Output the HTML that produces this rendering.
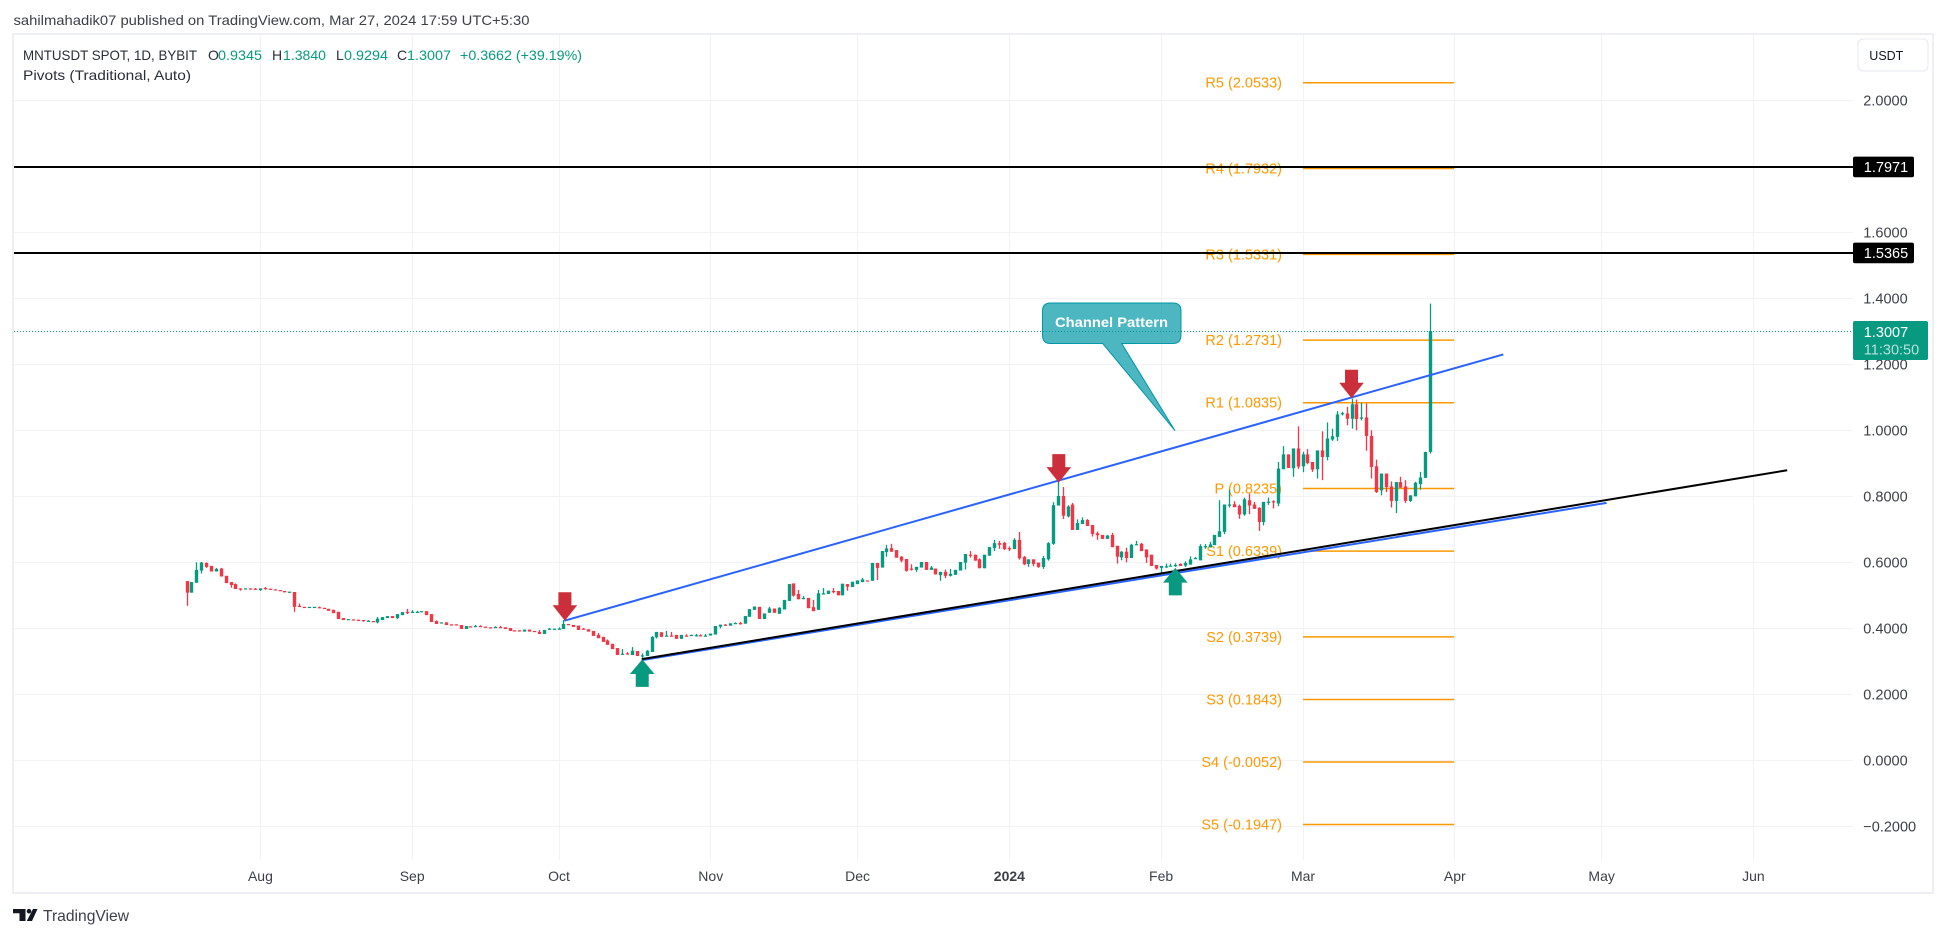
<!DOCTYPE html>
<html lang="en">
<head>
<meta charset="utf-8">
<title>MNTUSDT SPOT chart</title>
<style>
html,body{margin:0;padding:0;background:#fff;}
svg{display:block;font-family:"Liberation Sans",sans-serif;}
</style>
</head>
<body>
<svg id="chart" xmlns="http://www.w3.org/2000/svg" width="1946" height="937" viewBox="0 0 1946 937">
  <rect x="0" y="0" width="1946" height="937" fill="#ffffff"/>
  <text x="13.5" y="25" font-size="14" fill="#3c3f48" textLength="516" lengthAdjust="spacingAndGlyphs">sahilmahadik07 published on TradingView.com, Mar 27, 2024 17:59 UTC+5:30</text>
  <rect x="13" y="34" width="1920" height="859" fill="none" stroke="#eeeef5" stroke-width="2"/>
  <g id="grid"></g>
  <g id="pivots"></g>
  <g id="candles"></g>
  <g id="priceline"></g>
  <g id="trendlines"></g>
  <g id="levels"></g>
  <g id="arrows"></g>
  <g>
    <path d="M1050.5 303 H1173 Q1181 303 1181 311 V335 Q1181 343.5 1173 343.5 H1121.7 L1175 430.7 L1102.7 343.5 H1050.5 Q1042.5 343.5 1042.5 335 V311 Q1042.5 303 1050.5 303 Z" fill="#0097a7" fill-opacity="0.7" stroke="#0097a7" stroke-width="1"/>
    <text x="1055" y="327" font-size="14" font-weight="bold" fill="#ffffff" textLength="113" lengthAdjust="spacingAndGlyphs">Channel Pattern</text>
  </g>
  <g font-size="14">
    <text x="23" y="60" fill="#2a2e39" textLength="174" lengthAdjust="spacingAndGlyphs">MNTUSDT SPOT, 1D, BYBIT</text>
    <text x="208" y="60" fill="#2a2e39">O</text>
    <text x="218" y="60" fill="#089981" textLength="44" lengthAdjust="spacingAndGlyphs">0.9345</text>
    <text x="272" y="60" fill="#2a2e39">H</text>
    <text x="283" y="60" fill="#089981" textLength="43" lengthAdjust="spacingAndGlyphs">1.3840</text>
    <text x="336" y="60" fill="#2a2e39">L</text>
    <text x="344" y="60" fill="#089981" textLength="44" lengthAdjust="spacingAndGlyphs">0.9294</text>
    <text x="397" y="60" fill="#2a2e39">C</text>
    <text x="407" y="60" fill="#089981" textLength="44" lengthAdjust="spacingAndGlyphs">1.3007</text>
    <text x="460" y="60" fill="#089981" textLength="122" lengthAdjust="spacingAndGlyphs">+0.3662 (+39.19%)</text>
    <text x="23" y="80" fill="#2a2e39" textLength="168" lengthAdjust="spacingAndGlyphs">Pivots (Traditional, Auto)</text>
  </g>
  <g id="priceaxis"></g>
  <g id="timeaxis"></g>
  <g>
    <rect x="1858" y="39" width="70" height="32" rx="5" fill="#ffffff" stroke="#e6e8ef" stroke-width="1"/>
    <text x="1869.3" y="60" font-size="13" fill="#131722" textLength="34" lengthAdjust="spacingAndGlyphs">USDT</text>
  </g>
  <g>
    <path fill="#131722" d="M13 909 H25.5 V921 H19.5 V913.2 H13 Z M33 909 H37.5 L32 921 H26.8 Z"/>
    <circle cx="29" cy="911.2" r="2.3" fill="#131722"/>
    <text x="43" y="921" font-size="16" fill="#3c3f48" textLength="86" lengthAdjust="spacingAndGlyphs">TradingView</text>
  </g>
</svg>
<script>
const opens = [
.543,.508,.538,.575,.598,.589,.572,.581,.559,.540,
.534,.521,.520,.521,.520,.516,.522,.520,.518,.516,
.513,.510,.510,.468,.465,.464,.464,.464,.462,.459,
.456,.450,.431,.427,.427,.426,.425,.422,.422,.418,
.425,.431,.437,.431,.440,.450,.449,.449,.451,.452,
.443,.422,.417,.418,.412,.412,.410,.398,.406,.406,
.407,.405,.403,.403,.404,.403,.401,.394,.394,.390,
.396,.392,.389,.383,.398,.398,.398,.398,.413,.410,
.408,.399,.397,.392,.380,.374,.363,.353,.340,.322,
.324,.319,.331,.317,.316,.328,.373,.388,.377,.378,
.380,.368,.378,.379,.378,.379,.377,.378,.381,.405,
.411,.408,.415,.416,.414,.435,.456,.465,.428,.447,
.460,.444,.457,.483,.536,.504,.491,.492,.464,.456,
.505,.504,.513,.513,.500,.534,.525,.534,.540,.545,
.544,.598,.584,.631,.643,.637,.617,.610,.581,.577,
.584,.601,.577,.581,.561,.571,.559,.562,.575,.599,
.623,.623,.609,.582,.620,.643,.658,.659,.643,.640,
.668,.616,.595,.609,.599,.586,.609,.656,.772,.801,
.739,.775,.698,.716,.728,.713,.688,.683,.671,.683,
.650,.615,.632,.613,.654,.656,.639,.623,.592,.583,
.587,.590,.591,.595,.590,.593,.612,.606,.648,.645,
.652,.677,.692,.774,.776,.771,.745,.788,.775,.765,
.722,.783,.785,.778,.882,.927,.885,.945,.891,.927,
.904,.882,.939,.919,.972,.980,1.051,1.051,1.035,1.079,
1.038,1.039,.983,.891,.818,.869,.830,.786,.843,.830,
.786,.800,.837,.856,.9345];
const closes = [
.508,.540,.577,.599,.586,.572,.580,.557,.537,.531,
.519,.519,.521,.519,.519,.521,.520,.519,.517,.515,
.509,.511,.465,.465,.464,.465,.465,.462,.461,.453,
.446,.428,.425,.428,.426,.425,.424,.423,.421,.429,
.434,.437,.431,.443,.449,.446,.450,.450,.452,.440,
.419,.413,.418,.410,.411,.411,.398,.407,.405,.407,
.406,.404,.402,.404,.403,.398,.392,.393,.393,.396,
.390,.391,.383,.395,.399,.399,.399,.413,.412,.404,
.395,.398,.390,.377,.370,.359,.350,.337,.319,.323,
.323,.332,.316,.318,.332,.374,.389,.374,.378,.377,
.368,.380,.377,.380,.379,.378,.378,.384,.407,.411,
.410,.415,.416,.415,.437,.458,.466,.428,.445,.460,
.447,.462,.486,.534,.499,.488,.492,.461,.452,.506,
.506,.514,.512,.500,.535,.526,.541,.545,.548,.544,
.598,.583,.634,.642,.632,.614,.605,.574,.580,.586,
.601,.577,.584,.563,.571,.559,.565,.577,.601,.625,
.622,.605,.582,.623,.646,.658,.653,.640,.642,.668,
.612,.594,.609,.595,.586,.613,.658,.773,.801,.741,
.769,.698,.719,.728,.710,.686,.682,.671,.681,.646,
.617,.632,.613,.653,.655,.634,.615,.589,.581,.589,
.588,.590,.592,.589,.598,.609,.613,.649,.649,.654,
.683,.694,.775,.775,.767,.745,.791,.772,.762,.722,
.783,.784,.784,.884,.927,.886,.945,.890,.927,.901,
.881,.939,.919,.975,.982,1.048,1.052,1.035,1.079,1.034,
1.039,.983,.889,.813,.869,.828,.786,.843,.826,.786,
.803,.841,.857,.9345,1.3007];
const highs = [
.543,.540,.600,.601,.600,.589,.583,.583,.559,.540,
.536,.521,.521,.521,.522,.521,.525,.520,.518,.516,
.513,.511,.510,.475,.465,.465,.465,.466,.462,.459,
.456,.450,.431,.428,.427,.426,.425,.425,.422,.434,
.434,.437,.437,.443,.449,.459,.455,.453,.452,.452,
.443,.424,.418,.418,.412,.412,.410,.407,.406,.410,
.409,.405,.403,.406,.407,.403,.401,.394,.394,.396,
.396,.392,.395,.395,.401,.399,.403,.425,.413,.410,
.408,.401,.397,.392,.386,.374,.366,.353,.340,.337,
.328,.343,.331,.324,.334,.376,.389,.388,.392,.389,
.380,.380,.382,.381,.383,.382,.383,.384,.407,.411,
.413,.415,.418,.419,.437,.458,.466,.465,.445,.465,
.460,.464,.486,.534,.536,.516,.498,.492,.486,.516,
.522,.514,.522,.513,.535,.534,.541,.545,.553,.545,
.598,.598,.634,.653,.656,.637,.619,.610,.594,.587,
.601,.601,.589,.581,.571,.578,.580,.577,.601,.625,
.634,.623,.612,.623,.646,.668,.665,.662,.648,.673,
.692,.619,.609,.609,.599,.619,.661,.782,.850,.828,
.773,.780,.730,.736,.731,.713,.693,.683,.683,.689,
.650,.634,.644,.656,.665,.659,.639,.623,.592,.589,
.596,.596,.597,.597,.603,.618,.616,.655,.655,.662,
.683,.788,.775,.820,.785,.775,.796,.808,.783,.767,
.783,.796,.788,.904,.952,.927,.945,1.012,.935,.943,
.904,.939,.997,1.024,1.005,1.058,1.056,1.071,1.096,1.093,
1.083,1.081,1.000,.911,.869,.869,.845,.843,.859,.849,
.803,.844,.874,.9345,1.384];
const lows = [
.468,.508,.538,.566,.583,.572,.572,.557,.537,.523,
.519,.514,.520,.517,.519,.513,.517,.519,.517,.515,
.509,.510,.450,.465,.464,.464,.464,.462,.461,.453,
.446,.428,.425,.427,.426,.425,.420,.422,.421,.415,
.425,.431,.431,.428,.440,.443,.449,.449,.451,.440,
.419,.413,.417,.410,.411,.411,.398,.398,.405,.406,
.406,.404,.402,.403,.403,.398,.392,.393,.390,.390,
.390,.391,.383,.383,.398,.398,.398,.398,.412,.404,
.395,.398,.390,.377,.370,.359,.350,.337,.319,.322,
.320,.319,.316,.306,.316,.328,.369,.374,.376,.377,
.368,.368,.375,.379,.375,.378,.375,.378,.381,.400,
.410,.408,.415,.411,.414,.435,.456,.428,.428,.447,
.447,.444,.457,.483,.496,.488,.488,.461,.452,.456,
.502,.504,.506,.500,.500,.514,.525,.534,.540,.544,
.544,.546,.584,.617,.632,.614,.600,.572,.575,.571,
.584,.577,.577,.563,.544,.552,.557,.562,.575,.578,
.614,.605,.582,.582,.620,.634,.641,.637,.634,.640,
.608,.591,.586,.588,.583,.580,.605,.653,.772,.731,
.736,.698,.698,.716,.710,.678,.668,.671,.671,.646,
.596,.606,.600,.613,.654,.634,.598,.589,.578,.568,
.583,.590,.586,.589,.586,.593,.610,.606,.641,.645,
.652,.677,.685,.766,.767,.732,.741,.746,.762,.695,
.712,.774,.763,.770,.882,.886,.859,.883,.873,.897,
.874,.854,.849,.909,.968,.968,1.045,1.015,1.005,1.000,
1.030,.938,.854,.810,.803,.813,.766,.749,.826,.780,
.783,.800,.820,.856,.9294];

const startDate = '2023-07-17';
const monthLabels = ['Aug','Sep','Oct','Nov','Dec','2024','Feb','Mar','Apr','May','Jun'];
const monthDates = ['2023-08-01','2023-09-01','2023-10-01','2023-11-01','2023-12-01','2024-01-01','2024-02-01','2024-03-01','2024-04-01','2024-05-01','2024-06-01'];
const priceGridTicks = [2,1.8,1.6,1.4,1.2,1,0.8,0.6,0.4,0.2,0,-0.2];
const priceTickLabels = ['2.0000','','1.6000','1.4000','1.2000','1.0000','0.8000','0.6000','0.4000','0.2000','0.0000','\u22120.2000'];
const pivotNames = ['R5','R4','R3','R2','R1','P','S1','S2','S3','S4','S5'];
const pivotValues = [2.0533,1.7932,1.5331,1.2731,1.0835,0.8235,0.6339,0.3739,0.1843,-0.0052,-0.1947];
const pivotStart = '2024-03-01';
const pivotEnd = '2024-04-01';
const blackLevels = [1.7971,1.5365];
const lastPrice = 1.3007;
const countdown = '11:30:50';
const channelUpperIdx = [77.1,268.9];
const channelUpperVal = [0.423,1.230];
const channelLowerIdx = [92.9,290];
const channelLowerVal = [0.3037,0.780];
const supportIdx = [92.9,326.9];
const supportVal = [0.3067,0.879];
const sellArrowIdx = [77.2,178.1,237.9];
const sellArrowVal = [0.423,0.8415,1.097];
const buyArrowIdx = [93.0,201.9];
const buyArrowVal = [0.306,0.583];

const PANE_LEFT = 14, PANE_RIGHT = 1853, PANE_TOP = 35, PANE_BOTTOM = 860;
const GREEN = '#089981', RED = '#f23645', ORANGE = '#ff9800';
const NS = 'http://www.w3.org/2000/svg';

function xScale(i){ return 187 + 4.895 * i; }
function yScale(v){ return 100.3 + (2 - v) * 330; }
function dateIndex(s){ return Math.round((Date.parse(s) - Date.parse(startDate)) / 86400000); }
function make(tag, attrs, parent, txt){
  const el = document.createElementNS(NS, tag);
  for (const k in attrs) el.setAttribute(k, attrs[k]);
  if (txt !== undefined) el.textContent = txt;
  parent.appendChild(el);
  return el;
}

const gGrid = document.getElementById('grid');
const gPivots = document.getElementById('pivots');
const gCandles = document.getElementById('candles');
const gPriceLine = document.getElementById('priceline');
const gTrend = document.getElementById('trendlines');
const gLevels = document.getElementById('levels');
const gArrows = document.getElementById('arrows');
const gPriceAxis = document.getElementById('priceaxis');
const gTimeAxis = document.getElementById('timeaxis');

priceGridTicks.forEach(function(v, k){
  const el = make('rect', {x:PANE_LEFT, y:Math.floor(yScale(v)), width:PANE_RIGHT-PANE_LEFT, height:1, fill:'#f1f2f6'}, gGrid);
  
  
  if (priceTickLabels[k]) {
    const t = make('text', {x:1863.3, y:yScale(v)+5.2, 'font-size':14.5, fill:'#3c3f48'}, gPriceAxis, priceTickLabels[k]);
    
    
  }
});

monthDates.forEach(function(d, k){
  const i = dateIndex(d);
  const el = make('rect', {x:Math.floor(xScale(i)), y:PANE_TOP, width:1, height:PANE_BOTTOM-PANE_TOP, fill:'#f1f2f6'}, gGrid);
  
  
  const isYear = monthLabels[k] === '2024';
  const t = make('text', {x:xScale(i), y:881, 'font-size':14, 'text-anchor':'middle', fill:'#3c3f48', 'font-weight':isYear?'bold':'normal'}, gTimeAxis, monthLabels[k]);
  
  
});

pivotValues.forEach(function(v, k){
  const x1 = Math.floor(xScale(dateIndex(pivotStart)));
  const x2 = Math.floor(xScale(dateIndex(pivotEnd)));
  const el = make('line', {x1:x1, x2:x2, y1:yScale(v), y2:yScale(v), stroke:ORANGE, 'stroke-width':1.5}, gPivots);
  
  
  const t = make('text', {x:x1-21, y:yScale(v)+5, 'font-size':14.5, 'text-anchor':'end', fill:ORANGE}, gPivots, pivotNames[k] + ' (' + v.toFixed(4) + ')');
  
  
});

opens.forEach(function(o, i){
  const c = closes[i];
  const col = c >= o ? GREEN : RED;
  const cx = Math.floor(xScale(i)) + 0.5;
  const yH = yScale(highs[i]);
  const yL = yScale(lows[i]);
  const wick = make('rect', {x:cx-0.65, y:yH, width:1.3, height:Math.max(1, yL-yH), fill:col}, gCandles);
  
  
  const yTop = yScale(Math.max(o, c));
  const yBot = yScale(Math.min(o, c));
  const body = make('rect', {x:cx-1.7, y:yTop, width:3.4, height:Math.max(1.2, yBot-yTop), fill:col}, gCandles);
  
  
});

const pl = make('line', {x1:PANE_LEFT, x2:PANE_RIGHT, y1:Math.floor(yScale(lastPrice))+0.5, y2:Math.floor(yScale(lastPrice))+0.5, stroke:GREEN, 'stroke-width':1, 'stroke-dasharray':'1 2'}, gPriceLine);



const lowerLine = make('line', {x1:xScale(channelLowerIdx[0]), y1:yScale(channelLowerVal[0]), x2:xScale(channelLowerIdx[1]), y2:yScale(channelLowerVal[1]), stroke:'#2962ff', 'stroke-width':2}, gTrend);


const upperLine = make('line', {x1:xScale(channelUpperIdx[0]), y1:yScale(channelUpperVal[0]), x2:xScale(channelUpperIdx[1]), y2:yScale(channelUpperVal[1]), stroke:'#2962ff', 'stroke-width':2}, gTrend);


const supportLine = make('line', {x1:xScale(supportIdx[0]), y1:yScale(supportVal[0]), x2:xScale(supportIdx[1]), y2:yScale(supportVal[1]), stroke:'#000000', 'stroke-width':2}, gTrend);



blackLevels.forEach(function(v){
  const y = yScale(v) - 0.3;
  const el = make('line', {x1:PANE_LEFT, x2:PANE_RIGHT, y1:y, y2:y, stroke:'#000000', 'stroke-width':2}, gLevels);
  
  
});

sellArrowIdx.forEach(function(idx, k){
  const x = xScale(idx), y = yScale(sellArrowVal[k]);
  const d = 'M' + (x-6.5) + ' ' + (y-28.5) + ' H' + (x+6.5) + ' V' + (y-15.5) + ' H' + (x+12.3) + ' L' + x + ' ' + y + ' L' + (x-12.3) + ' ' + (y-15.5) + ' H' + (x-6.5) + ' Z';
  const el = make('path', {d:d, fill:'#cc2f3c'}, gArrows);
  
  
});
buyArrowIdx.forEach(function(idx, k){
  const x = xScale(idx), y = yScale(buyArrowVal[k]);
  const d = 'M' + (x-6.5) + ' ' + (y+27.5) + ' H' + (x+6.5) + ' V' + (y+14.7) + ' H' + (x+12.3) + ' L' + x + ' ' + y + ' L' + (x-12.3) + ' ' + (y+14.7) + ' H' + (x-6.5) + ' Z';
  const el = make('path', {d:d, fill:GREEN}, gArrows);
  
  
});

blackLevels.forEach(function(v){
  const y = yScale(v) - 0.3;
  const tag = make('rect', {x:1853, y:y-10.3, width:61, height:20.6, rx:2, fill:'#000000'}, gPriceAxis);
  
  
  const t = make('text', {x:1863.8, y:y+5.2, 'font-size':14.5, fill:'#ffffff'}, gPriceAxis, v.toFixed(4));
  
  
});

const lastTag = make('rect', {x:1853, y:321, width:75, height:39, rx:2, fill:GREEN}, gPriceAxis);


const lastText = make('text', {x:1863.8, y:337, 'font-size':14.5, fill:'#ffffff'}, gPriceAxis, lastPrice.toFixed(4));


const cdText = make('text', {x:1863.8, y:354.5, 'font-size':14.5, fill:'#ffffff', 'fill-opacity':0.7}, gPriceAxis, countdown);


</script>
</body>
</html>
